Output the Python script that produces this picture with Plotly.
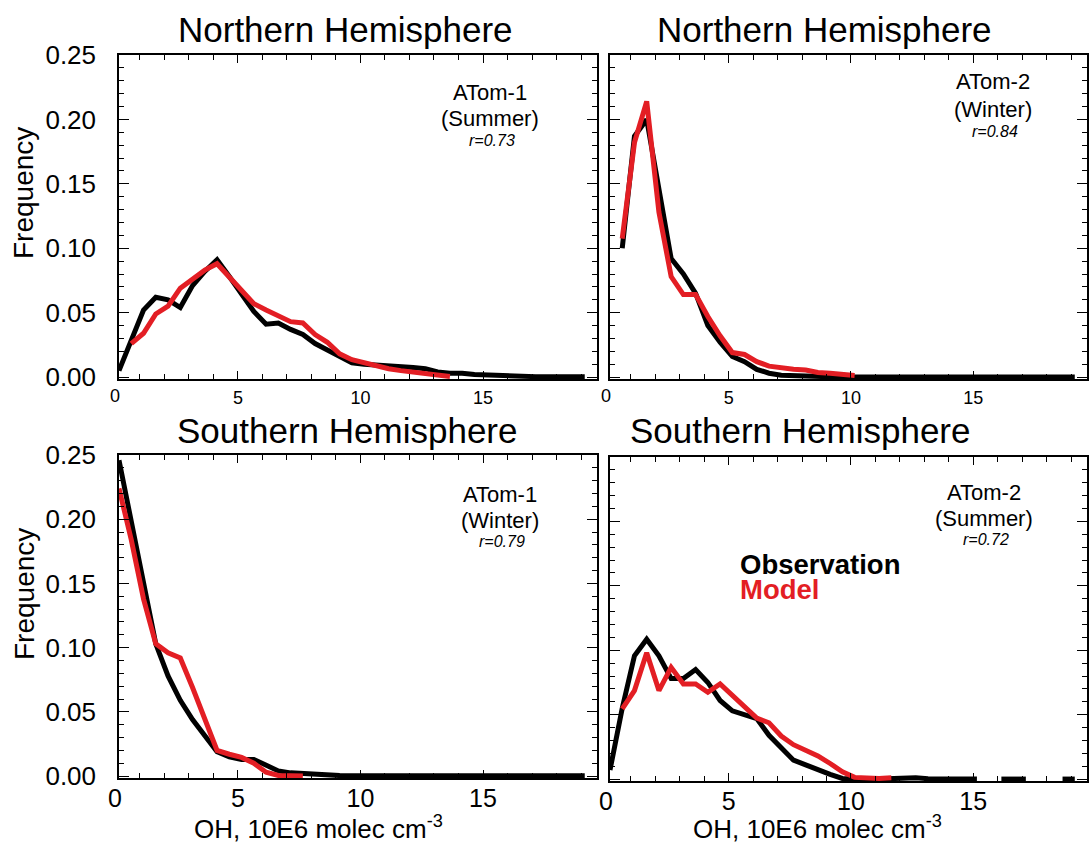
import plotly.graph_objects as go

# ---------------- data ----------------
oh_bins = [0.15, 0.65, 1.15, 1.65, 2.15, 2.65, 3.15, 3.65, 4.15, 4.65,
           5.15, 5.65, 6.15, 6.65, 7.15, 7.65, 8.15, 8.65, 9.15, 9.65,
           10.15, 10.65, 11.15, 11.65, 12.15, 12.65, 13.15, 13.65, 14.15, 14.65,
           15.15, 15.65, 16.15, 16.65, 17.15, 17.65, 18.15, 18.65, 19.15]

nh_atom1_obs = [0.005, 0.028, 0.052, 0.062, 0.060, 0.054, 0.071, 0.082, 0.091, 0.078,
                0.064, 0.051, 0.041, 0.042, 0.037, 0.033, 0.026, 0.021, 0.016, 0.011,
                0.010, 0.0095, 0.009, 0.008, 0.0075, 0.0065, 0.004, 0.003, 0.003, 0.002,
                0.0015, 0.001, 0.0005, 0.0003, 0.0003, 0.0002, 0.0002, 0.0002, 0.0002]
nh_atom1_mod = [None, 0.026, 0.034, 0.049, 0.055, 0.069, 0.076, 0.083, 0.088, 0.078,
                0.067, 0.057, 0.052, 0.048, 0.043, 0.042, 0.033, 0.027, 0.018, 0.0135,
                0.011, 0.0085, 0.0065, 0.005, 0.004, 0.003, 0.0015, 0.0005, None, None,
                None, None, None, None, None, None, None, None, None]

nh_atom2_obs = [None, 0.100, 0.187, 0.200, 0.145, 0.092, 0.080, 0.065, 0.040, 0.027,
                0.016, 0.012, 0.006, 0.003, 0.0015, 0.001, 0.0008, 0.0004, 0.0002, 0.0,
                0.0, 0.0, 0.0, 0.0, 0.0, 0.0002, 0.0004, 0.0005, 0.0005, 0.0004,
                0.0002, 0.0, 0.0, 0.0, 0.0, 0.0, 0.0, 0.0, 0.0]
nh_atom2_mod = [None, 0.1075, 0.182, 0.214, 0.128, 0.078, 0.064, 0.064, 0.047, 0.032,
                0.019, 0.0175, 0.012, 0.0085, 0.007, 0.006, 0.0054, 0.0036, 0.003, 0.002,
                0.0013, None, None, None, None, None, None, None, None, None,
                None, None, None, None, None, None, None, None, None]

sh_atom1_obs = [0.246, 0.197, 0.150, 0.103, 0.078, 0.059, 0.044, 0.031, 0.019, 0.015,
                0.013, 0.013, 0.008, 0.004, 0.0025, 0.0018, 0.0012, 0.0008, 0.0004, 0.0002,
                0.0002, 0.0002, 0.0002, 0.0002, 0.0002, 0.0002, 0.0004, 0.0008, 0.001, 0.0008,
                0.0003, 0.0002, 0.0002, 0.0002, 0.0002, 0.0002, 0.0002, 0.0002, 0.0002]
sh_atom1_mod = [0.224, 0.184, 0.138, 0.103, 0.096, 0.092, 0.069, 0.045, 0.020, 0.017,
                0.0145, 0.010, 0.003, 0.0005, 0.0003, 0.0, None, None, None, None,
                None, None, None, None, None, None, None, None, None, None,
                None, None, None, None, None, None, None, None, None]

sh_atom2_obs = [0.007, 0.055, 0.0957, 0.1085, 0.0957, 0.078, 0.078, 0.085, 0.075, 0.061,
                0.053, 0.0505, 0.047, 0.034, 0.024, 0.0147, 0.011, 0.007, 0.0036, 0.0005,
                0.0, 0.0, 0.0, 0.0005, 0.0002, 0.001, 0.0003, 0.0, 0.0, 0.0,
                0.0, None, 0.0, 0.0, 0.0, None, None, 0.0, 0.0]
sh_atom2_mod = [None, 0.0545, 0.0687, 0.098, 0.0687, 0.0867, 0.0738, 0.0738, 0.0674, 0.0738,
                0.0648, 0.0558, 0.0473, 0.0437, 0.0334, 0.0267, 0.0224, 0.018, 0.0121, 0.0057,
                0.0013, 0.0005, 0.0005, 0.001, None, None, None, None, None, None,
                None, None, None, None, None, None, None, None, None]

panel_titles = ["Northern Hemisphere", "Northern Hemisphere",
                "Southern Hemisphere", "Southern Hemisphere"]
campaigns = ["ATom-1", "ATom-2", "ATom-1", "ATom-2"]
seasons = ["(Summer)", "(Winter)", "(Winter)", "(Summer)"]
correlations = ["r=0.73", "r=0.84", "r=0.79", "r=0.72"]
x_ticks = [0, 5, 10, 15]
y_ticks = [0.00, 0.05, 0.10, 0.15, 0.20, 0.25]

# ---------------- layout helpers ----------------
W, H = 1090, 844
FONT = "Liberation Sans, Arial, Helvetica, sans-serif"
BLACK = "#000000"
RED = "#E31E24"
X_MIN, X_MAX = 0.15, 19.65


def px_x(p):
    return p / W


def px_y(p):
    return 1 - p / H


# panel pixel boxes: (left, right, top, bottom)
boxes = [(119, 597, 55, 379), (610, 1087, 55, 379),
         (119, 597, 455, 778), (610, 1087, 457, 781)]

series = [(nh_atom1_obs, nh_atom1_mod), (nh_atom2_obs, nh_atom2_mod),
          (sh_atom1_obs, sh_atom1_mod), (sh_atom2_obs, sh_atom2_mod)]

fig = go.Figure()

for i, (obs, mod) in enumerate(series):
    ax = "" if i == 0 else str(i + 1)
    fig.add_trace(go.Scatter(x=oh_bins, y=obs, mode="lines", xaxis="x" + ax, yaxis="y" + ax,
                             line=dict(color=BLACK, width=5), connectgaps=False,
                             showlegend=False, hoverinfo="skip"))
    fig.add_trace(go.Scatter(x=oh_bins, y=mod, mode="lines", xaxis="x" + ax, yaxis="y" + ax,
                             line=dict(color=RED, width=5), connectgaps=False,
                             showlegend=False, hoverinfo="skip"))

layout = dict(width=W, height=H, margin=dict(l=0, r=0, t=0, b=0, autoexpand=False),
              paper_bgcolor="white", plot_bgcolor="white", showlegend=False,
              font=dict(family=FONT, color="black"))

ann = []
for i, (l, r, t, b) in enumerate(boxes):
    ax = "" if i == 0 else str(i + 1)
    bottom_row = i >= 2
    left_col = i % 2 == 0
    xfs = 25 if bottom_row else 18
    layout["xaxis" + ax] = dict(
        domain=[px_x(l), px_x(r)], range=[X_MIN, X_MAX], anchor="y" + ax, automargin=False,
        tickvals=x_ticks, ticktext=[str(v) for v in x_ticks],
        ticks="inside", ticklen=8, tickwidth=1, tickcolor="black",
        minor=dict(dtick=1, ticks="inside", ticklen=5, tickwidth=1, tickcolor="black"),
        showline=True, linecolor="black", linewidth=1.5, mirror="allticks",
        showgrid=False, zeroline=False, ticklabelstandoff=-3 if bottom_row else 2,
        tickfont=dict(size=xfs, family=FONT, color="black"))
    layout["yaxis" + ax] = dict(
        domain=[px_y(b), px_y(t)], range=[-0.0015, 0.25], anchor="x" + ax, automargin=False,
        tickvals=y_ticks, tickformat=".2f",
        ticks="inside", ticklen=10, tickwidth=1, tickcolor="black",
        minor=dict(dtick=0.01, tick0=0, ticks="inside", ticklen=5, tickwidth=1, tickcolor="black"),
        showline=True, linecolor="black", linewidth=1.5, mirror="allticks",
        showgrid=False, zeroline=False, showticklabels=left_col, ticklabelstandoff=16,
        tickfont=dict(size=26, family=FONT, color="black"))
    # the "0" tick label sits just left of the frame (the axis starts slightly above zero)
    zero_px = l - (X_MIN - x_ticks[0]) * (r - l) / (X_MAX - X_MIN)
    ann.append(dict(text=str(x_ticks[0]), x=px_x(zero_px), xref="paper",
                    y=px_y(b + (20 if bottom_row else 17)), yref="paper",
                    showarrow=False, xanchor="center", yanchor="middle",
                    font=dict(size=xfs, family=FONT, color="black")))

fig.update_layout(**layout)

# panel titles
title_pos = [(345, 30), (824, 30), (347, 430), (800, 430)]
for txt, (x, y) in zip(panel_titles, title_pos):
    ann.append(dict(text=txt, x=px_x(x), y=px_y(y), xref="paper", yref="paper",
                    showarrow=False, xanchor="center", yanchor="middle",
                    font=dict(size=35, family=FONT, color="black")))

# campaign labels
camp_pos = [(490, 92, 118, 140), (993, 82, 109, 131), (500, 494, 520, 541), (984, 492, 518, 539)]
for c, s, r, (x, y1, y2, y3) in zip(campaigns, seasons, correlations, camp_pos):
    ann.append(dict(text=c, x=px_x(x), y=px_y(y1), xref="paper", yref="paper", showarrow=False,
                    xanchor="center", yanchor="middle", font=dict(size=22, family=FONT, color="black")))
    ann.append(dict(text=s, x=px_x(x), y=px_y(y2), xref="paper", yref="paper", showarrow=False,
                    xanchor="center", yanchor="middle", font=dict(size=22, family=FONT, color="black")))
    ann.append(dict(text="<i>" + r + "</i>", x=px_x(x + 2), y=px_y(y3), xref="paper", yref="paper",
                    showarrow=False, xanchor="center", yanchor="middle",
                    font=dict(size=16, family=FONT, color="black")))

# legend text
ann.append(dict(text="<b>Observation</b>", x=px_x(738), y=px_y(564), xref="paper", yref="paper",
                showarrow=False, xanchor="left", yanchor="middle",
                font=dict(size=27.5, family=FONT, color=BLACK)))
ann.append(dict(text="<b>Model</b>", x=px_x(738), y=px_y(589), xref="paper", yref="paper",
                showarrow=False, xanchor="left", yanchor="middle",
                font=dict(size=27.5, family=FONT, color=RED)))

# axis titles
for y in (193, 594):
    ann.append(dict(text="Frequency", x=px_x(24), y=px_y(y), xref="paper", yref="paper",
                    showarrow=False, xanchor="center", yanchor="middle", textangle=-90,
                    font=dict(size=28, family=FONT, color="black")))
for x in (318, 817):
    ann.append(dict(text="OH, 10E6 molec cm<sup>-3</sup>", x=px_x(x), y=px_y(827), xref="paper",
                    yref="paper", showarrow=False, xanchor="center", yanchor="middle",
                    font=dict(size=26, family=FONT, color="black")))

fig.update_layout(annotations=ann)
fig.write_html("out.html")
